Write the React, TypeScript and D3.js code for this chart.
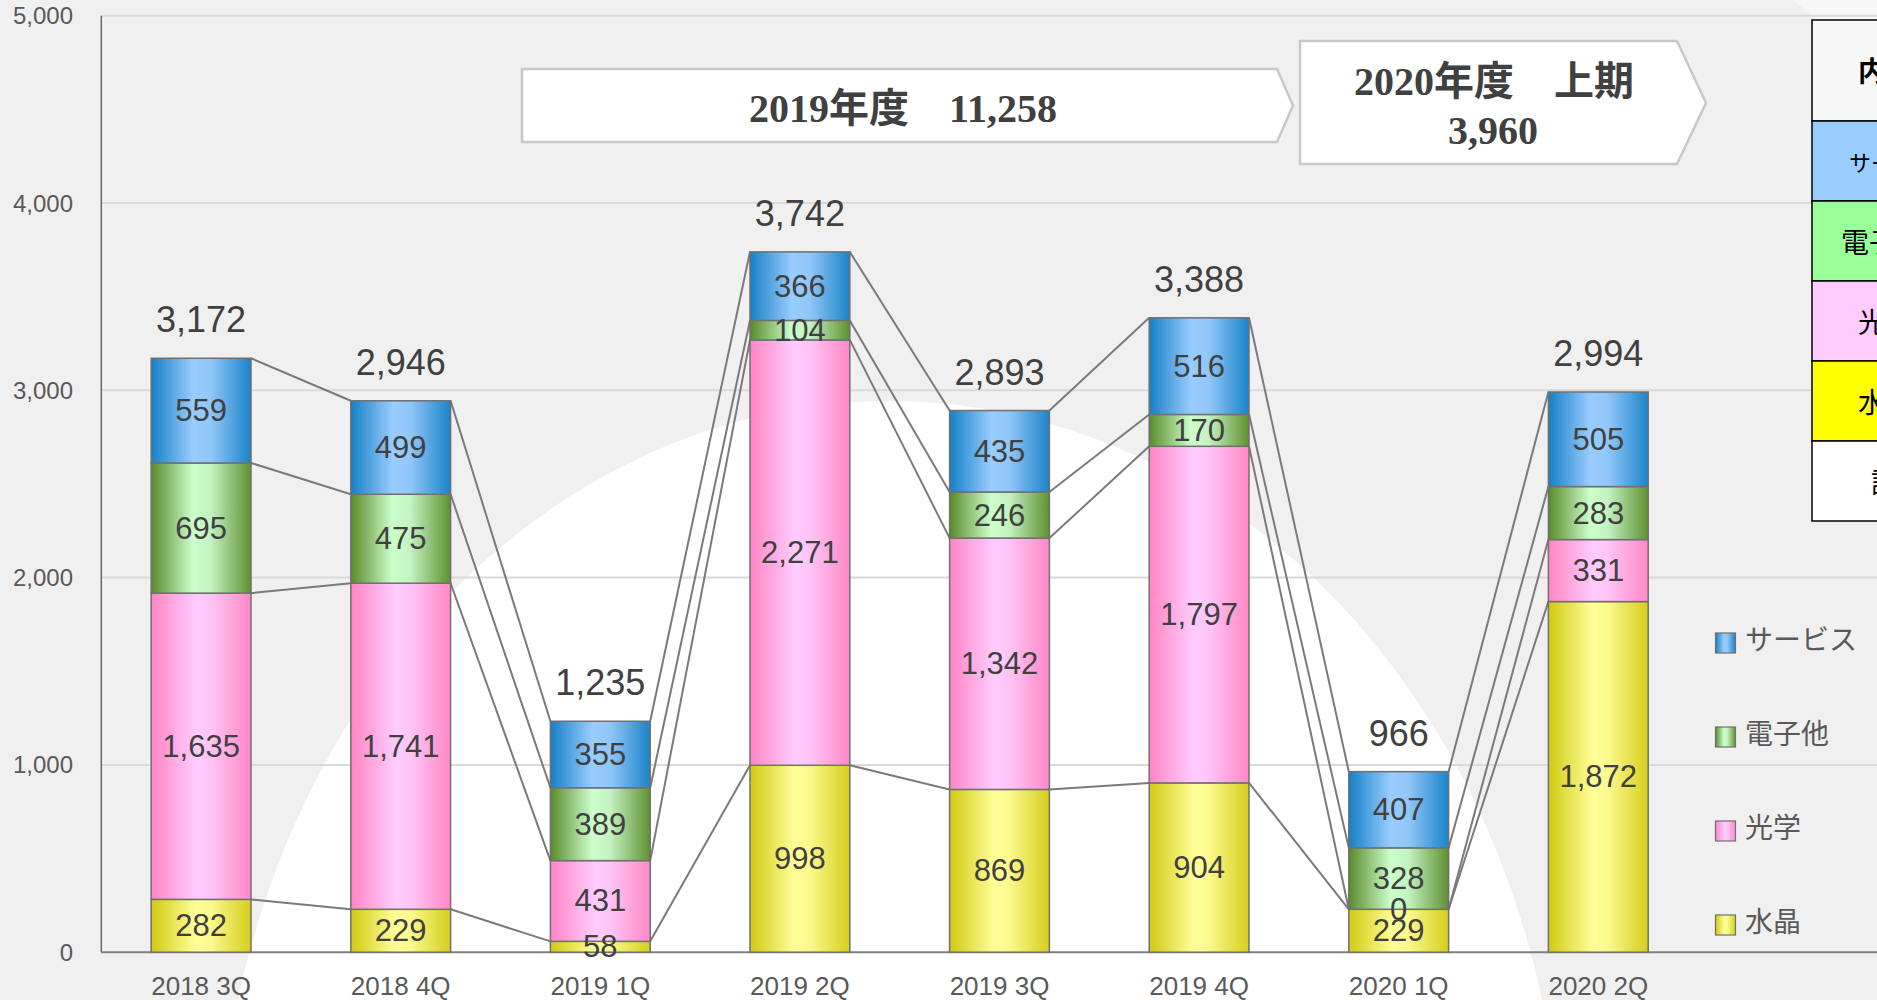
import React from "react";
import * as d3 from "d3";

const categories = ["2018 3Q", "2018 4Q", "2019 1Q", "2019 2Q", "2019 3Q", "2019 4Q", "2020 1Q", "2020 2Q"];
const crystal = [282, 229, 58, 998, 869, 904, 229, 1872];
const optical = [1635, 1741, 431, 2271, 1342, 1797, 0, 331];
const electronic = [695, 475, 389, 104, 246, 170, 328, 283];
const service = [559, 499, 355, 366, 435, 516, 407, 505];
const totals = [3172, 2946, 1235, 3742, 2893, 3388, 966, 2994];
const yTicks = [0, 1000, 2000, 3000, 4000, 5000];
const seriesNames = ["水晶", "光学", "電子他", "サービス"];
const tableRows = ["サービス", "電子他", "光学", "水晶", "計"];

const W = 1877;
const H = 1000;
const SANS = "'Liberation Sans', Arial, 'Noto Sans CJK JP', sans-serif";
const JP = "'Noto Sans CJK JP', 'Liberation Sans', sans-serif";
const SERIF = "'Liberation Serif', 'Times New Roman', 'Noto Sans CJK JP', serif";

const gradients = [
  { id: "gCrystal", stops: [["0", "#d2ca12"], ["0.45", "#ffff99"], ["0.6", "#fbf98c"], ["1", "#d6ce1c"]] },
  { id: "gOptical", stops: [["0", "#ff85c4"], ["0.45", "#ffccff"], ["0.6", "#ffc4f6"], ["1", "#ff88c6"]] },
  { id: "gElec", stops: [["0", "#5a8a2a"], ["0.42", "#ccffcc"], ["0.6", "#c2f2c0"], ["1", "#5f902f"]] },
  { id: "gService", stops: [["0", "#1580c6"], ["0.42", "#99ccff"], ["0.6", "#90c6f8"], ["1", "#1a84c8"]] },
];

const tableFills = ["#99ccff", "#99ff99", "#ffccff", "#ffff00", "#ffffff"];
const tableTextX = [1849, 1841, 1858, 1858, 1871];
const tableTextSize = [22, 28, 28, 28, 28];

export default function App() {
  const keys = ["crystal", "optical", "electronic", "service"];
  const rows = categories.map((c, i) => ({
    cat: c,
    crystal: crystal[i],
    optical: optical[i],
    electronic: electronic[i],
    service: service[i],
  }));
  const stack = d3.stack<any>().keys(keys)(rows);

  const x = d3.scaleBand().domain(categories).range([101.3, 101.3 + 8 * 199.6]).paddingInner(0.5).paddingOuter(0.25);
  const y = d3.scaleLinear().domain([0, 5000]).range([952.2, 15.7]);
  const bw = x.bandwidth();

  return (
    <svg width={W} height={H} style={{ position: "absolute", left: 0, top: 0, display: "block" }}>
      <defs>
        {gradients.map((g) => (
          <linearGradient key={g.id} id={g.id} x1="0" x2="1" y1="0" y2="0">
            {g.stops.map((s, i) => (
              <stop key={i} offset={s[0]} stopColor={s[1]} />
            ))}
          </linearGradient>
        ))}
      </defs>
      <rect x={0} y={0} width={W} height={H} fill="#f0f0f0" />
      <ellipse cx={890} cy={1191} rx={672} ry={790} fill="#ffffff" />
      <polygon points="1793,0 1877,0 1877,70" fill="#f7f7f7" />

      {/* gridlines */}
      {yTicks.map((t) => (
        <line key={t} x1={101.3} x2={W} y1={y(t)} y2={y(t)} stroke={t === 0 ? "#7f7f7f" : "#d9d9d9"} strokeWidth={2} />
      ))}
      <line x1={101.3} x2={101.3} y1={y(5000)} y2={y(0)} stroke="#6a6a6a" strokeWidth={1.5} />
      {yTicks.map((t) => (
        <text key={"t" + t} x={73} y={y(t)} textAnchor="end" dominantBaseline="central" fontSize={24} fill="#595959" fontFamily={SANS}>
          {d3.format(",")(t)}
        </text>
      ))}

      {/* series lines */}
      {stack.map((s, si) =>
        s.slice(0, -1).map((d, i) => (
          <line
            key={"l" + si + "-" + i}
            x1={(x(categories[i]) as number) + bw}
            y1={y(d[1])}
            x2={x(categories[i + 1]) as number}
            y2={y(s[i + 1][1])}
            stroke="#7a7a7a"
            strokeWidth={2}
          />
        ))
      )}

      {/* bars */}
      {stack.map((s, si) =>
        s.map((d, i) => (
          <rect
            key={"b" + si + "-" + i}
            x={x(categories[i]) as number}
            y={y(d[1])}
            width={bw}
            height={Math.max(0, y(d[0]) - y(d[1]))}
            fill={`url(#${gradients[si].id})`}
            stroke="#707070"
            strokeWidth={1.5}
          />
        ))
      )}

      {/* segment labels */}
      {stack.map((s, si) =>
        s.map((d, i) => (
          <text
            key={"v" + si + "-" + i}
            x={(x(categories[i]) as number) + bw / 2}
            y={(y(d[0]) + y(d[1])) / 2}
            textAnchor="middle"
            dominantBaseline="central"
            fontSize={31}
            fill="#404040"
            fontFamily={SANS}
          >
            {d3.format(",")(d[1] - d[0])}
          </text>
        ))
      )}

      {/* totals */}
      {categories.map((c, i) => (
        <text key={"tot" + i} x={(x(c) as number) + bw / 2} y={y(stack[3][i][1]) - 26} textAnchor="middle" fontSize={36} fill="#404040" fontFamily={SANS}>
          {d3.format(",")(totals[i])}
        </text>
      ))}

      {/* category labels */}
      {categories.map((c) => (
        <text key={"c" + c} x={(x(c) as number) + bw / 2} y={995} textAnchor="middle" fontSize={26} fill="#595959" fontFamily={SANS}>
          {c}
        </text>
      ))}

      {/* arrow boxes */}
      <polygon points="522,69 1277,69 1293,105.5 1277,142 522,142" fill="#ffffff" stroke="#c8c8c8" strokeWidth={2.5} />
      <text x={903} y={122} textAnchor="middle" fontSize={40} fontWeight="bold" fill="#404040" fontFamily={SERIF}>
        2019年度　11,258
      </text>
      <polygon points="1300,41 1677,41 1706,103 1677,164 1300,164" fill="#ffffff" stroke="#c8c8c8" strokeWidth={2.5} />
      <text x={1494} y={95} textAnchor="middle" fontSize={40} fontWeight="bold" fill="#404040" fontFamily={SERIF}>
        2020年度　上期
      </text>
      <text x={1493} y={144} textAnchor="middle" fontSize={40} fontWeight="bold" fill="#404040" fontFamily={SERIF}>
        3,960
      </text>

      {/* legend */}
      {[3, 2, 1, 0].map((si, k) => (
        <g key={"lg" + si}>
          <rect x={1715.5} y={633 + k * 94} width={20} height={20} fill={`url(#${gradients[si].id})`} stroke="#707070" strokeWidth={1.2} />
          <text x={1745} y={638 + k * 94} dominantBaseline="central" fontSize={28} fill="#595959" fontFamily={JP}>
            {seriesNames[si]}
          </text>
        </g>
      ))}

      {/* breakdown table (clipped at right edge) */}
      <g>
        <rect x={1812} y={20} width={140} height={101} fill="#f7f7f7" stroke="#000" strokeWidth={1.5} />
        <text x={1858} y={70} dominantBaseline="central" fontSize={28} fontWeight="bold" fill="#000" fontFamily={JP}>
          内訳
        </text>
        {tableRows.map((r, i) => {
          const y0 = 121 + i * 80;
          return (
            <g key={"tr" + i}>
              <rect x={1812} y={y0} width={140} height={80} fill={tableFills[i]} stroke="#000" strokeWidth={1.5} />
              <text x={tableTextX[i]} y={y0 + 40} dominantBaseline="central" fontSize={tableTextSize[i]} fill="#000" fontFamily={JP}>
                {r}
              </text>
            </g>
          );
        })}
      </g>
    </svg>
  );
}
